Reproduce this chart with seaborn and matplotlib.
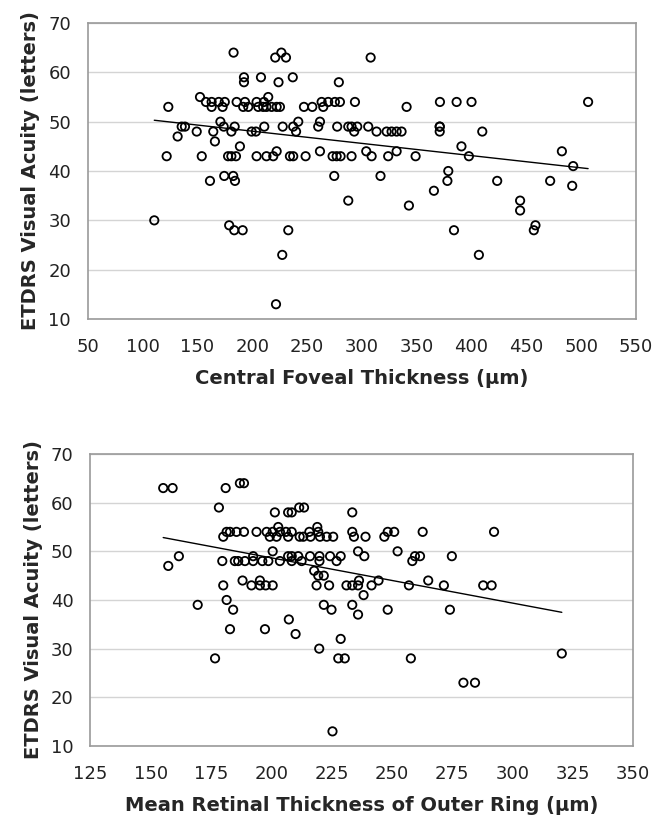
import numpy as np
import pandas as pd
import matplotlib
matplotlib.use("Agg")
import matplotlib.pyplot as plt
import seaborn as sns

# top panel: central foveal thickness vs visual acuity
cft_x = [110.7, 123.5, 122, 132, 135.7, 138.7, 149.4, 152.4, 154, 157.8, 161.5, 163, 163, 164.5,
         166, 169.5, 171, 173, 174, 174.5, 175, 178, 179, 181, 181, 182.7, 183, 183.6, 184, 184.3,
         185.2, 185.8, 188.8, 191.3, 191.8, 192.5, 192.5, 193.4, 196.4, 199.5, 203.4, 204, 204,
         205.5, 208, 210, 210.7, 211, 213, 213, 214.6, 217.7, 219.2, 221, 221.7, 222.3, 222.3, 224,
         225.3, 226.6, 227.4, 227.8, 230.8, 232.9, 234.4, 237, 237.4, 237.4, 240, 242, 247.2, 248.7,
         254.8, 260.2, 261.8, 261.8, 263.3, 264.8, 269.3, 273.3, 274.8, 275.4, 277, 277.5, 279, 280,
         280.6, 287.6, 287.6, 290.6, 290.6, 293, 293.7, 295.8, 304, 305.8, 308, 308.9, 313.4, 317,
         322.6, 324, 327.1, 331.7, 331.7, 336.2, 340.8, 342.9, 349, 365.7, 371, 371, 371, 371.2,
         378, 378.8, 384, 386.4, 390.8, 397.6, 400, 406.7, 409.8, 423.4, 444.3, 444.3, 456.8, 458.3,
         471.7, 482.4, 491.8, 492.7, 506.3]
cft_va = [30, 53, 43, 47, 49, 49, 48, 55, 43, 54, 38, 54, 53, 48,
          46, 54, 50, 53, 49, 39, 54, 43, 29, 48, 43, 39, 64, 28, 49, 38,
          43, 54, 45, 28, 53, 59, 58, 54, 53, 48, 48, 54, 43,
          53, 59, 53, 54, 49, 53, 43, 55, 53, 43, 63, 13, 53, 44, 58,
          53, 64, 23, 49, 63, 28, 43, 59, 49, 43, 48, 50, 53, 43,
          53, 49, 50, 44, 54, 53, 54, 43, 39, 54, 43, 49, 58, 54,
          43, 49, 34, 49, 43, 48, 54, 49, 44, 49, 63, 43, 48, 39,
          48, 43, 48, 48, 44, 48, 53, 33, 43, 36, 49, 49, 48, 54,
          38, 40, 28, 54, 45, 43, 54, 23, 48, 38, 34, 32, 28, 29,
          38, 44, 37, 41, 54]

# bottom panel: mean retinal thickness of outer ring vs visual acuity
mrt_x = [155.2, 159.1, 157.3, 161.7, 169.5, 176.7, 178.3, 179.7, 180.1, 180.1, 181.1, 181.5, 181.5,
         182.9, 182.9, 184.2, 184.9, 185.6, 186.3, 187, 188.1, 188.7, 188.7, 189.1, 191.8, 192.5,
         192.5, 193.9, 195.3, 195.3, 196.3, 197.4, 197.7, 198.1, 198.8, 199.4, 200.6, 200.6, 200.6,
         201.5, 202.2, 202.9, 203.6, 203.6, 206.1, 207, 207, 207, 207.3, 208.5, 208.5, 208.5, 208.5,
         210.1, 211.2, 211.6, 211.8, 212.6, 213.3, 213.6, 215.8, 216.1, 216.3, 217.8, 218.8, 219.1,
         219.5, 219.5, 219.9, 220, 220, 220.2, 221.8, 221.8, 223, 224, 224.4, 225, 225.4, 225.7,
         227.1, 227.8, 228.8, 228.8, 230.5, 231.2, 233.6, 233.6, 233.6, 233.6, 234.3, 236, 236, 236,
         236.4, 238.3, 238.6, 239.1, 241.6, 244.5, 246.9, 248.3, 248.3, 251, 252.4, 257.1, 257.9,
         258.5, 259.6, 261.7, 262.8, 265.1, 271.6, 274.1, 274.9, 279.7, 284.5, 287.9, 291.4, 292.4,
         320.5]
mrt_va = [63, 63, 47, 49, 39, 28, 59, 48, 53, 43, 63, 54, 40,
          54, 34, 38, 48, 54, 48, 64, 44, 64, 54, 48, 43, 49,
          48, 54, 44, 43, 48, 34, 43, 54, 48, 53, 54, 50, 43,
          58, 53, 55, 54, 48, 54, 58, 53, 49, 36, 58, 54, 49, 48,
          33, 49, 59, 53, 48, 53, 59, 54, 49, 53, 46, 43, 55,
          54, 45, 30, 49, 48, 53, 45, 39, 53, 43, 49, 38, 13, 53,
          48, 28, 49, 32, 28, 43, 58, 54, 43, 39, 53, 50, 43, 37,
          44, 41, 49, 53, 43, 44, 53, 54, 38, 54, 50, 43, 28,
          48, 49, 49, 54, 44, 43, 38, 49, 23, 23, 43, 43, 54,
          29]

top = pd.DataFrame({"x": cft_x, "va": cft_va})
bottom = pd.DataFrame({"x": mrt_x, "va": mrt_va})

sns.set_style("white")
plt.rcParams['font.family'] = ['DejaVu Sans']

fig = plt.figure(figsize=(6.69, 8.25), dpi=100)
ax1 = fig.add_axes([0.1311, 0.6133, 0.8196, 0.3588])
ax2 = fig.add_axes([0.1351, 0.0958, 0.8110, 0.3539])

panels = [
    (ax1, top, (50, 550), np.arange(50, 551, 50), "Central Foveal Thickness (\u03bcm)"),
    (ax2, bottom, (125, 350), np.arange(125, 351, 25), "Mean Retinal Thickness of Outer Ring (\u03bcm)"),
]

for ax, df, xlim, xticks, xlabel in panels:
    sns.regplot(data=df, x="x", y="va", ax=ax, ci=None, color="black",
                scatter_kws={"facecolors": "none", "edgecolors": "black", "s": 36,
                             "linewidths": 1.3, "alpha": 1, "zorder": 3},
                line_kws={"color": "black", "linewidth": 1.0, "zorder": 2})
    ax.set_xlim(*xlim)
    ax.set_ylim(10, 70)
    ax.set_xticks(xticks)
    ax.set_yticks(np.arange(10, 71, 10))
    ax.yaxis.grid(True, color="#d4d4d4", linewidth=1)
    ax.xaxis.grid(False)
    ax.set_axisbelow(True)
    for s in ax.spines.values():
        s.set_visible(True)
        s.set_color("#9a9a9a")
        s.set_linewidth(1.2)
    ax.tick_params(axis="both", which="major", direction="out", length=5, width=1,
                   color="#9a9a9a", labelsize=13, labelcolor="#222222")
    ax.tick_params(axis="x", pad=9)
    ax.tick_params(axis="y", pad=7)
    ax.set_xlabel(xlabel, fontsize=14, fontweight="bold", labelpad=9)
    ax.set_ylabel("ETDRS Visual Acuity (letters)", fontsize=14, fontweight="bold", labelpad=6)

fig.savefig("out.png", dpi=100)
